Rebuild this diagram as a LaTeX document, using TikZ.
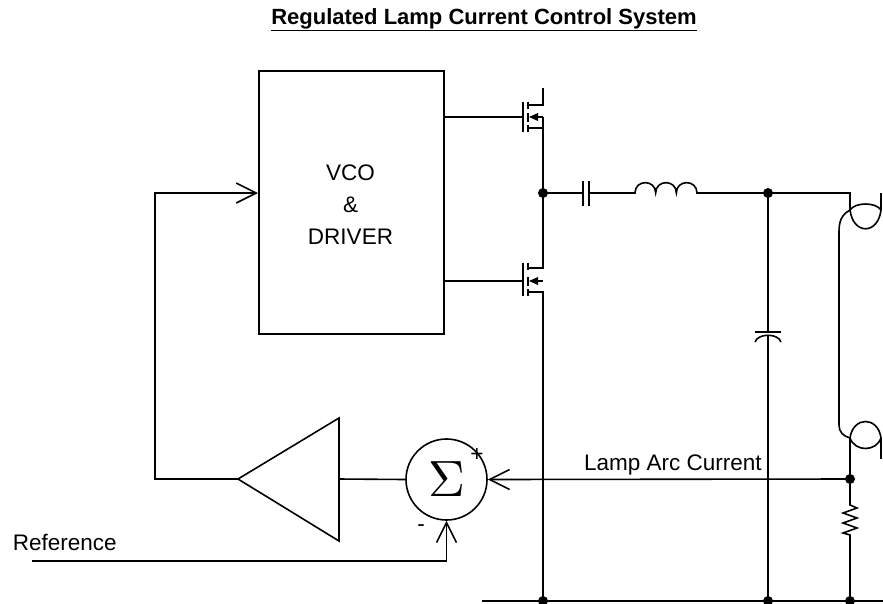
\documentclass[tikz,border=0pt]{standalone}
\usepackage{fontspec}
\usepackage{graphicx}
\setmainfont{Liberation Sans}
\usetikzlibrary{arrows.meta,calc}
\begin{document}
\begin{tikzpicture}[x=1pt,y=-1pt,line width=1.6pt,
  arr/.style={-{Straight Barb[length=20pt,width=20pt,line width=1.6pt]}},
  dot/.style={circle,fill,inner sep=0pt,minimum size=10pt},
  lbl/.style={font=\fontsize{22.5}{26}\selectfont,inner sep=0pt},
  block/.style={draw,minimum width=185pt,minimum height=263pt,inner sep=0pt},
  summer/.style={draw,circle,minimum size=81pt,inner sep=0pt,font=\fontsize{10}{12}\selectfont},
  tip/.style={fill}]
\useasboundingbox (0,0) rectangle (883,603);
% title
\node[font=\bfseries\fontsize{22}{26}\selectfont,inner sep=0pt,anchor=base] (title) at (484,24) {\underline{Regulated Lamp Current Control System}};
% VCO block
\node[block,anchor=north west] (vco) at (258,70) {};
\node[lbl,align=center,font=\fontsize{22.5}{32}\selectfont] (vcotext) at (350.5,205) {VCO\\\&\\DRIVER};
% coordinates
\coordinate (g1) at (523,117);
\coordinate (g2) at (523,281);
\coordinate (vdd) at (543,88);
\coordinate (j1) at (543,193);
\coordinate (j2) at (768,193);
\coordinate (jr) at (850,479);
\coordinate (b1) at (543,601);
\coordinate (b2) at (768,601);
\coordinate (b3) at (850,601);
\coordinate (railL) at (482,601);
\coordinate (railR) at (883,601);
\coordinate (fb) at (155,193);
\coordinate (ampout) at (238,479);
\coordinate (ampin) at (339,479);
\coordinate (ref) at (32,561);
% gate lines
\draw (vco.east |- g1) -- (g1);
\draw (vco.east |- g2) -- (g2);
% top MOSFET
\draw (523,102) -- (523,132);
\draw (528,102) -- (528,109) (528,112.5) -- (528,121.5) (528,125) -- (528,132);
\draw (vdd) -- (543,105) -- (528,105);
\draw (528,128) -- (543,128);
\draw (543,117) -- (533,117);
\fill[tip] (529,117) -- (538,113) -- (538,121) -- cycle;
\draw (543,117) -- (j1);
% bottom MOSFET
\draw (523,263) -- (523,296);
\draw (528,263) -- (528,270) (528,276.5) -- (528,285.5) (528,289) -- (528,296);
\draw (j1) -- (543,268) -- (528,268);
\draw (543,281) -- (533,281);
\fill[tip] (529,281) -- (538,277) -- (538,285) -- cycle;
\draw (528,292) -- (543,292) -- (b1);
% series capacitor and inductor
\draw (j1) -- (583,193);
\draw (583,181) -- (583,206) (589,181) -- (589,206);
\draw (589,193) -- (635,193)
  .. controls (635,179.2) and (655.67,179.2) .. (655.67,193)
  .. controls (655.67,179.2) and (676.33,179.2) .. (676.33,193)
  .. controls (676.33,179.2) and (697,179.2) .. (697,193) -- (j2);
% shunt capacitor
\draw (j2) -- (768,332);
\draw (755,332) -- (781,332);
\draw (755,342) .. controls (758,333) and (778,333) .. (781,342);
\draw (768,335) -- (b2);
% lamp
\draw (j2) -- (850,193) -- (850,210);
\draw (881,193) -- (881,210);
\draw (850,210) .. controls (855,202) and (876,202) .. (881,210) .. controls (878,235) and (853,235) .. (850,210);
\draw (850,210) .. controls (841,215) and (839,222) .. (839,232) -- (839,425) .. controls (839,432) and (843,436) .. (850,438);
\draw (850,438) .. controls (853,416) and (878,416) .. (881,438) .. controls (876,452) and (855,452) .. (850,438);
\draw (881,438) -- (881,459);
\draw (850,438) -- (jr);
% sense resistor
\draw (jr) -- (850,505) -- (857,508) -- (843,513) -- (857,518) -- (843,523) -- (857,528) -- (843,533) -- (850,535) -- (b3);
% ground rail
\draw (railL) -- (railR);
% junction dots
\node[dot] (d1) at (j1) {};
\node[dot] (d2) at (j2) {};
\node[dot] (d3) at (jr) {};
\node[dot] (d4) at (b1) {};
\node[dot] (d5) at (b2) {};
\node[dot] (d6) at (b3) {};
% summer and amplifier
\node[summer] (sum) at (446.5,479.5) {\raisebox{-0.4ex}{\scalebox{5.1}{$\Sigma$}}};
\draw (ampout) -- (339,418) -- (339,541) -- cycle;
\draw (sum.west) -- (ampin);
\draw[arr] (ampout) -- (fb |- ampout) -- (fb) -- (vco.west |- fb);
\draw[arr] (jr) -- (sum.east);
\draw[arr] (ref) -- (sum.south |- ref) -- (sum.south);
% labels
\node[lbl,anchor=base west] (reflbl) at (12,550) {Reference};
\node[lbl,anchor=base] (arclbl) at (673,470) {Lamp Arc Current};
\node[lbl] (plus) at (477,455) {+};
\node[lbl] (minus) at (421,528) {-};
\end{tikzpicture}
\end{document}
